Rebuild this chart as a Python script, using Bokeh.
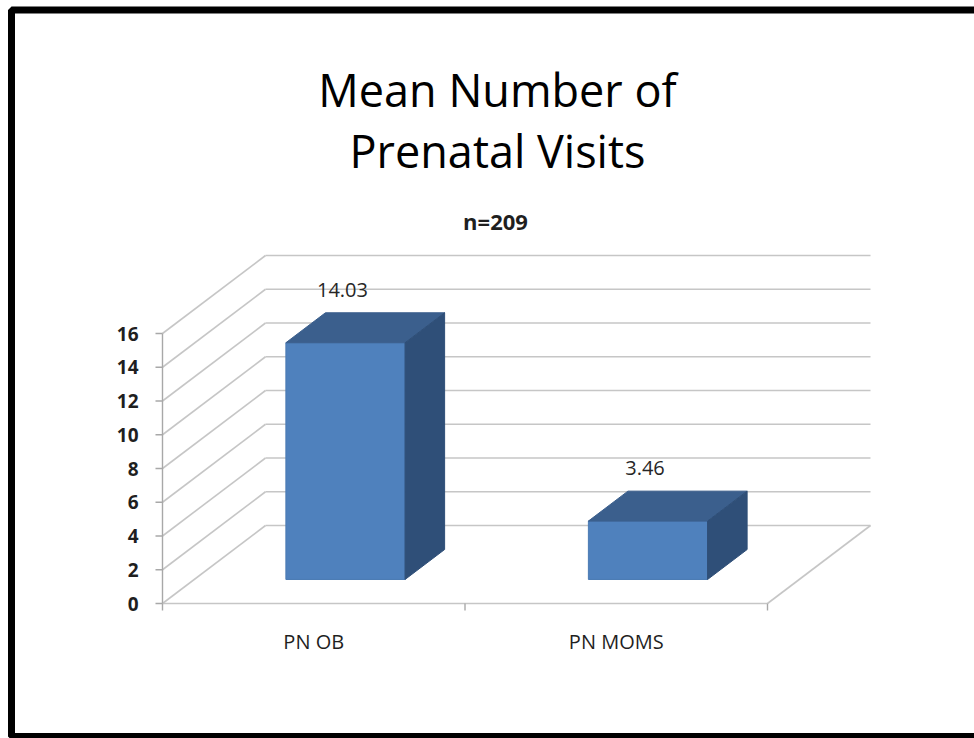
from bokeh.plotting import figure
from bokeh.models import Range1d, BoxAnnotation
from bokeh.core.properties import value
from bokeh.embed import file_html
from bokeh.resources import INLINE

# ---- data ----
categories = ["PN OB", "PN MOMS"]
means = [14.03, 3.46]
mean_labels = ["14.03", "3.46"]
y_ticks = [0, 2, 4, 6, 8, 10, 12, 14, 16]
y_tick_labels = ["0", "2", "4", "6", "8", "10", "12", "14", "16"]
title_lines = ["Mean Number of", "Prenatal Visits"]
subtitle = "n=209"

# ---- geometry / style (pixels per data unit) ----
W, H = 974, 738
KX, KY = 302.5, 16.875          # px per category unit / px per value unit
X0_PX, Y0_PX = 162, 603         # canvas position of the front-floor origin
xs = -X0_PX / KX
xe = xs + W / KX
ye = Y0_PX / KY
ys = ye - H / KY

DX, DY = 103 / KX, 78 / KY      # full 3D depth offset
F1, F2 = 0.308, 0.692           # bar front/back depth fractions
BW = 0.394                      # bar width (category units)
FONT = value("Open Sans")

p = figure(width=W, height=H, x_range=Range1d(xs, xe), y_range=Range1d(ys, ye),
           output_backend="svg", toolbar_location=None, min_border=0)
p.axis.visible = False
p.grid.visible = False
p.outline_line_color = None
p.background_fill_color = "white"
p.border_fill_color = "white"

ncat = len(categories)
grid_col = "#C6C6C6"
top_tick = y_ticks[-1]

# back wall gridlines
p.segment(x0=[DX] * len(y_ticks), y0=[t + DY for t in y_ticks],
          x1=[ncat + DX] * len(y_ticks), y1=[t + DY for t in y_ticks],
          line_color=grid_col, line_width=1.6)
# side wall diagonals
p.segment(x0=[0] * len(y_ticks), y0=y_ticks,
          x1=[DX] * len(y_ticks), y1=[t + DY for t in y_ticks],
          line_color=grid_col, line_width=1.6)
# floor front edge and right diagonal
p.segment(x0=[0, ncat], y0=[0, 0], x1=[ncat, ncat + DX], y1=[0, DY],
          line_color=grid_col, line_width=1.6)
# front value axis line
p.segment(x0=[0], y0=[0], x1=[0], y1=[top_tick], line_color="#A8A8A8", line_width=1.4)
# value axis tick marks
p.segment(x0=[0] * len(y_ticks), y0=y_ticks, x1=[-7 / KX] * len(y_ticks), y1=y_ticks,
          line_color="#A8A8A8", line_width=1.4)
# category tick marks
cat_edges = list(range(ncat + 1))
p.segment(x0=cat_edges, y0=[0] * len(cat_edges), x1=cat_edges,
          y1=[-7 / KY] * len(cat_edges), line_color="#A8A8A8", line_width=1.4)

# 3D bars
centers = [i + 0.5 for i in range(ncat)]
front_left = [c - BW / 2 + F1 * DX for c in centers]
front_right = [c + BW / 2 + F1 * DX for c in centers]
p.quad(left=front_left, right=front_right, bottom=[F1 * DY] * ncat,
       top=[v + F1 * DY for v in means], fill_color="#4F81BD", line_color="#4A7AB3", line_width=1)

top_xs, top_ys, side_xs, side_ys = [], [], [], []
for c, v in zip(centers, means):
    l, r = c - BW / 2, c + BW / 2
    top_xs.append([l + F1 * DX, r + F1 * DX, r + F2 * DX, l + F2 * DX])
    top_ys.append([v + F1 * DY, v + F1 * DY, v + F2 * DY, v + F2 * DY])
    side_xs.append([r + F1 * DX, r + F2 * DX, r + F2 * DX, r + F1 * DX])
    side_ys.append([F1 * DY, F2 * DY, v + F2 * DY, v + F1 * DY])
p.patches(top_xs, top_ys, fill_color="#3B5F8D", line_color="#3B5F8D", line_width=1)
p.patches(side_xs, side_ys, fill_color="#2F4F78", line_color="#2F4F78", line_width=1)

# value labels
p.text(x=[c + F1 * DX - 3 / KX for c in centers], y=[v + F1 * DY + 53 / KY for v in means],
       text=mean_labels, text_font=FONT, text_font_size="20px", text_color="#262626",
       text_align="center", text_baseline="middle")

# value axis tick labels
p.text(x=[-24 / KX] * len(y_ticks), y=y_ticks, text=y_tick_labels, text_font=FONT,
       text_font_size="19px", text_font_style="bold", text_color="#1F1F1F",
       text_align="right", text_baseline="middle")

# category labels
p.text(x=centers, y=[-38 / KY] * ncat, text=categories, text_font=FONT,
       text_font_size="20px", text_color="#1F1F1F", text_align="center",
       text_baseline="alphabetic")

# titles
tx = (497 - X0_PX) / KX
p.text(x=[tx, tx], y=[(Y0_PX - 89) / KY, (Y0_PX - 150) / KY], text=title_lines,
       text_font=FONT, text_font_size="45px", text_color="black",
       text_align="center", text_baseline="alphabetic")
p.text(x=[(495 - X0_PX) / KX], y=[(Y0_PX - 220) / KY], text=[subtitle], text_font=FONT,
       text_font_size="22px", text_font_style="bold", text_color="#1F1F1F",
       text_align="center", text_baseline="alphabetic")

# outer black frame
p.add_layout(BoxAnnotation(left=xs + 11 / KX, right=xe + 1, top=ye - 9.5 / KY,
                           bottom=ye - 736 / KY, fill_alpha=0,
                           line_color="black", line_width=7, line_alpha=1))

open("out.html", "w").write(file_html(p, INLINE))
